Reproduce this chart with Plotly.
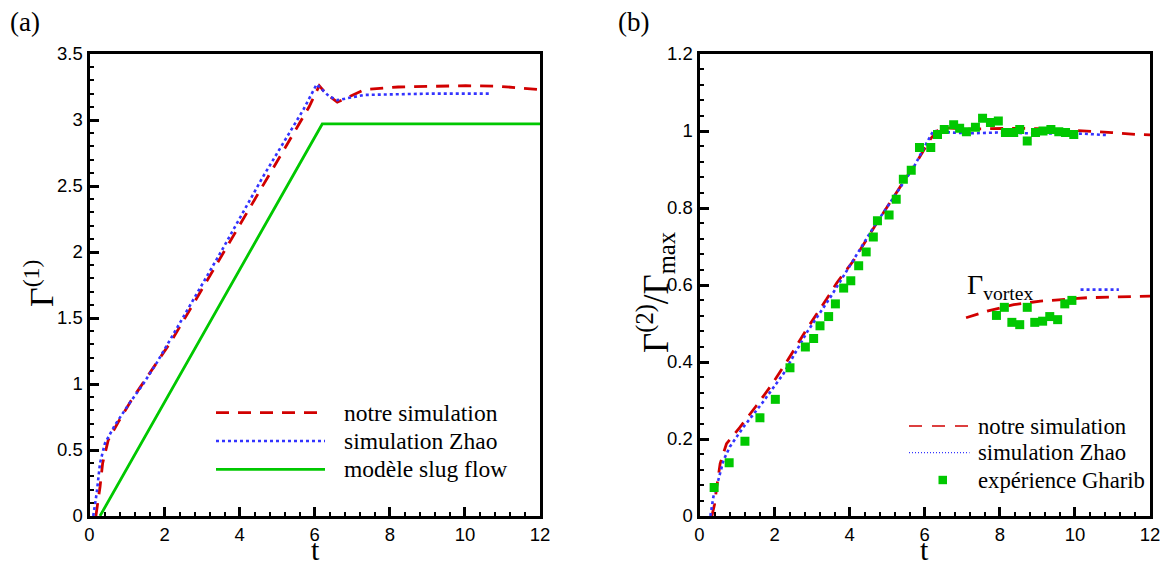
import plotly.graph_objects as go

# ---------------- data ----------------
# panel (a)
a_red_t = [0.17, 0.22, 0.28, 0.35, 0.5, 0.77, 1.12, 1.48, 1.84, 2.19, 3.0, 4.5, 5.5, 5.85, 6.12, 6.3, 6.6, 7.32, 8.22, 10.02, 10.93, 12.0]
a_red_y = [0.0, 0.1, 0.22, 0.4, 0.576, 0.714, 0.879, 1.03, 1.18, 1.33, 1.72, 2.44, 2.93, 3.1, 3.26, 3.2, 3.135, 3.23, 3.25, 3.26, 3.255, 3.23]
a_blue_t = [0.1, 0.15, 0.19, 0.28, 0.41, 0.68, 1.03, 1.43, 1.79, 2.28, 3.5, 4.6, 5.7, 6.05, 6.38, 6.6, 7.32, 9.12, 10.7]
a_blue_y = [0.0, 0.1, 0.17, 0.4, 0.55, 0.69, 0.84, 1.0, 1.16, 1.4, 2.0, 2.56, 3.08, 3.27, 3.18, 3.15, 3.19, 3.2, 3.2]
a_green_t = [0.28, 6.2, 12.0]
a_green_y = [0.0, 2.97, 2.97]

# panel (b)
b_red_t = [0.33, 0.4, 0.46, 0.55, 0.72, 1.08, 1.52, 1.88, 2.32, 2.86, 3.39, 3.66, 4.1, 4.73, 5.48, 5.75, 6.15, 6.41, 7.12, 7.79, 8.41, 9.08, 9.7, 10.34, 10.99, 11.63, 12.0]
b_red_y = [0.0, 0.03, 0.076, 0.136, 0.188, 0.231, 0.287, 0.335, 0.4, 0.486, 0.564, 0.606, 0.663, 0.762, 0.875, 0.914, 0.979, 1.009, 1.005, 1.007, 1.007, 1.006, 1.003, 1.0, 0.996, 0.991, 0.99]
b_blue_t = [0.29, 0.37, 0.5, 0.64, 0.81, 1.17, 1.66, 2.24, 2.86, 3.48, 4.63, 5.7, 6.15, 6.23, 6.72, 7.21, 7.92, 8.81, 10.23, 10.9]
b_blue_y = [0.0, 0.05, 0.093, 0.145, 0.18, 0.231, 0.292, 0.37, 0.477, 0.567, 0.749, 0.905, 0.987, 1.0, 0.996, 0.994, 0.996, 0.994, 0.993, 0.989]
b_exp_t = [0.39, 0.79, 1.21, 1.61, 2.02, 2.41, 2.82, 3.04, 3.21, 3.44, 3.62, 3.84, 4.03, 4.24, 4.44, 4.63, 4.74, 5.05, 5.24, 5.43, 5.64, 5.86, 6.16, 6.34, 6.52, 6.77, 6.93, 7.11, 7.35, 7.54, 7.75, 7.96, 8.15, 8.37, 8.53, 8.73, 8.95, 9.15, 9.36, 9.57, 9.75, 9.97]
b_exp_y = [0.074, 0.138, 0.194, 0.255, 0.303, 0.385, 0.439, 0.461, 0.494, 0.518, 0.551, 0.592, 0.611, 0.65, 0.686, 0.725, 0.767, 0.782, 0.823, 0.875, 0.898, 0.957, 0.957, 0.991, 1.004, 1.016, 1.007, 0.998, 1.01, 1.033, 1.022, 1.026, 0.996, 0.996, 1.004, 0.974, 0.996, 1.0, 1.004, 0.998, 0.996, 0.991]
# vortex circulation
v_red_t = [7.1, 7.66, 8.37, 9.08, 10.33, 11.61, 12.0]
v_red_y = [0.515, 0.532, 0.549, 0.558, 0.567, 0.57, 0.571]
v_blue_t = [10.15, 11.17]
v_blue_y = [0.588, 0.588]
v_exp_t = [7.91, 8.12, 8.32, 8.53, 8.73, 8.93, 9.14, 9.33, 9.54, 9.73, 9.92]
v_exp_y = [0.521, 0.542, 0.503, 0.497, 0.542, 0.503, 0.506, 0.518, 0.51, 0.551, 0.56]

x_ticks = [0, 2, 4, 6, 8, 10, 12]
a_yticks = [0, 0.5, 1, 1.5, 2, 2.5, 3, 3.5]
b_yticks = [0, 0.2, 0.4, 0.6, 0.8, 1, 1.2]

legend_a = ["notre simulation", "simulation Zhao", "modèle slug flow"]
legend_b = ["notre simulation", "simulation Zhao", "expérience Gharib"]

# ---------------- styles ----------------
RED = "#D10000"
BLUE = "#3333FF"
GREEN = "#00C800"
DASH = "13px,9px"
W, H = 1163, 565


def px(x):
    return x / W


def py(y):
    return 1 - y / H


fig = go.Figure()

line_red = dict(color=RED, width=2.8, dash=DASH)
line_blue = dict(color=BLUE, width=2.6, dash="dot")
line_green = dict(color=GREEN, width=2.8)

fig.add_trace(go.Scatter(x=a_green_t, y=a_green_y, mode="lines", line=line_green, xaxis="x", yaxis="y"))
fig.add_trace(go.Scatter(x=a_red_t, y=a_red_y, mode="lines", line=line_red, xaxis="x", yaxis="y"))
fig.add_trace(go.Scatter(x=a_blue_t, y=a_blue_y, mode="lines", line=line_blue, xaxis="x", yaxis="y"))

fig.add_trace(go.Scatter(x=b_red_t, y=b_red_y, mode="lines", line=line_red, xaxis="x2", yaxis="y2"))
fig.add_trace(go.Scatter(x=b_blue_t, y=b_blue_y, mode="lines", line=line_blue, xaxis="x2", yaxis="y2"))
fig.add_trace(go.Scatter(x=v_red_t, y=v_red_y, mode="lines", line=line_red, xaxis="x2", yaxis="y2"))
fig.add_trace(go.Scatter(x=v_blue_t, y=v_blue_y, mode="lines", line=line_blue, xaxis="x2", yaxis="y2"))
sq = dict(symbol="square", size=9, color=GREEN, line=dict(width=0))
fig.add_trace(go.Scatter(x=b_exp_t, y=b_exp_y, mode="markers", marker=sq, xaxis="x2", yaxis="y2"))
fig.add_trace(go.Scatter(x=v_exp_t, y=v_exp_y, mode="markers", marker=sq, xaxis="x2", yaxis="y2"))

tickfont = dict(family="Liberation Sans, Arial", size=18.5, color="black")
common_axis = dict(
    showline=True, linewidth=3, linecolor="black", mirror=True,
    ticks="inside", ticklen=9, tickwidth=2.5, tickcolor="black",
    showgrid=False, zeroline=False, tickfont=tickfont, automargin=False,
)
minor_x = dict(dtick=0.4, ticks="inside", ticklen=4.5, tickwidth=1.5, tickcolor="black")

ya_dom = [py(516), py(54)]
fig.update_layout(
    width=W, height=H,
    margin=dict(l=0, r=0, t=0, b=0, autoexpand=False),
    paper_bgcolor="white", plot_bgcolor="white",
    showlegend=False,
    xaxis=dict(domain=[px(89.5), px(540)], range=[0, 12], tickvals=x_ticks, anchor="y",
               minor=minor_x, **common_axis),
    yaxis=dict(domain=ya_dom, range=[0, 3.5], tickvals=a_yticks, ticktext=[f"{v:g}" for v in a_yticks], anchor="x",
               minor=dict(dtick=0.1, ticks="inside", ticklen=4.5, tickwidth=1.5, tickcolor="black"),
               **common_axis),
    xaxis2=dict(domain=[px(699.5), px(1150)], range=[0, 12], tickvals=x_ticks, anchor="y2",
                minor=minor_x, **common_axis),
    yaxis2=dict(domain=ya_dom, range=[0, 1.2], tickvals=b_yticks, ticktext=[f"{v:g}" for v in b_yticks], anchor="x2",
                minor=dict(dtick=0.04, ticks="inside", ticklen=4.5, tickwidth=1.5, tickcolor="black"),
                **common_axis),
)

serif = "Liberation Serif, Times New Roman, serif"
ann = []
# panel labels
ann.append(dict(text="(a)", x=px(25), y=py(22), font=dict(family=serif, size=27, color="black")))
ann.append(dict(text="(b)", x=px(633), y=py(22), font=dict(family=serif, size=27, color="black")))
# axis titles
ann.append(dict(text="t", x=px(315), y=py(549), font=dict(family=serif, size=30, color="black")))
ann.append(dict(text="t", x=px(924.5), y=py(549), font=dict(family=serif, size=30, color="black")))
ann.append(dict(text="Γ<sup>(1)</sup>", x=px(39), y=py(284), textangle=-90,
                font=dict(family=serif, size=34, color="black")))
ann.append(dict(text="Γ<sup>(2)</sup>/Γ<sub>max</sub>", x=px(655), y=py(293), textangle=-90,
                font=dict(family=serif, size=35, color="black")))
# vortex label
ann.append(dict(text="Γ<sub>vortex</sub>", x=px(965), y=py(286), xanchor="left",
                font=dict(family=serif, size=28, color="black")))

shapes = []
# legend (a)
leg_a_y = [412.7, 441, 469.3]
leg_a_lines = [line_red, dict(color=BLUE, width=2.6, dash="dot"), line_green]
for lab, yy, ln in zip(legend_a, leg_a_y, leg_a_lines):
    shapes.append(dict(type="line", xref="paper", yref="paper", x0=px(216), x1=px(325), y0=py(yy), y1=py(yy), line=ln))
    ann.append(dict(text=lab, x=px(342), y=py(yy), xanchor="left",
                    font=dict(family=serif, size=23.5, color="black")))
# legend (b)
leg_b_y = [426, 452.7, 480]
shapes.append(dict(type="line", xref="paper", yref="paper", x0=px(909), x1=px(969.5), y0=py(leg_b_y[0]), y1=py(leg_b_y[0]),
                   line=dict(color=RED, width=1.5, dash="13px,10px")))
shapes.append(dict(type="line", xref="paper", yref="paper", x0=px(909), x1=px(969.5), y0=py(leg_b_y[1]), y1=py(leg_b_y[1]),
                   line=dict(color=BLUE, width=1.2, dash="1px,2px")))
shapes.append(dict(type="rect", xref="paper", yref="paper", x0=px(938.5), x1=px(947), y0=py(leg_b_y[2] + 4.2), y1=py(leg_b_y[2] - 4.2),
                   fillcolor=GREEN, line=dict(width=0)))
for lab, yy in zip(legend_b, leg_b_y):
    ann.append(dict(text=lab, x=px(976), y=py(yy), xanchor="left",
                    font=dict(family=serif, size=22.7, color="black")))

for a in ann:
    a.setdefault("xref", "paper")
    a.setdefault("yref", "paper")
    a.setdefault("showarrow", False)
    a.setdefault("xanchor", "center")
    a.setdefault("yanchor", "middle")
fig.update_layout(annotations=ann, shapes=shapes)

fig.write_html(
    "out.html",
    config={"displayModeBar": False},
    post_script="document.body.style.margin='0';document.body.style.padding='0';"
                "document.body.style.overflow='hidden';",
)
